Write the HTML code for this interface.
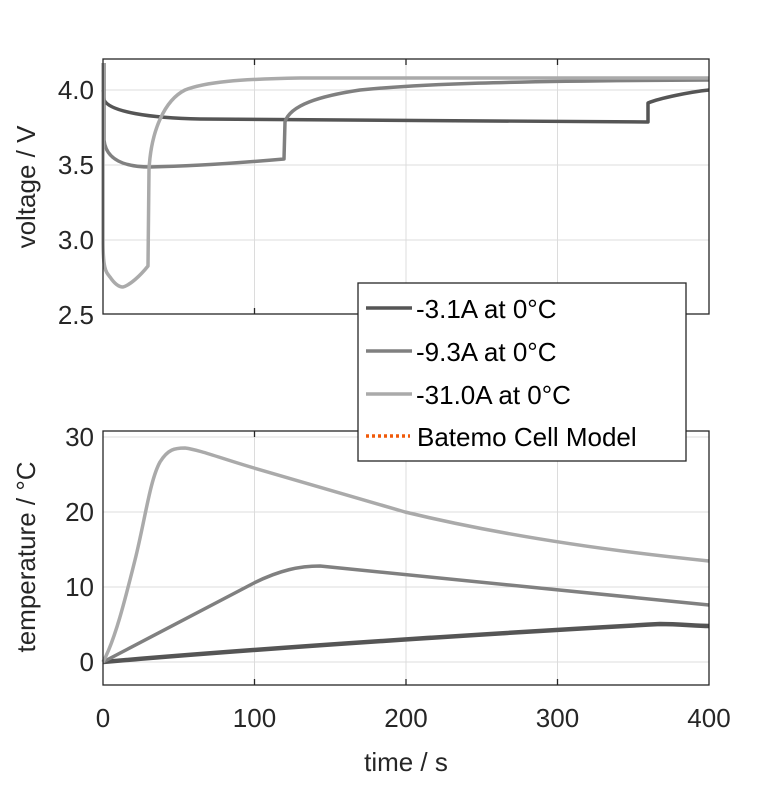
<!DOCTYPE html>
<html><head><meta charset="utf-8"><style>body{margin:0;background:#fff}</style></head><body>
<svg width="781" height="781" viewBox="0 0 781 781" xmlns="http://www.w3.org/2000/svg" font-family="Liberation Sans, sans-serif" fill="#262626">
<rect width="781" height="781" fill="#fff"/>
<g stroke="#dcdcdc" stroke-width="1">
<line x1="254.5" y1="59" x2="254.5" y2="314"/><line x1="406" y1="59" x2="406" y2="314"/><line x1="557.5" y1="59" x2="557.5" y2="314"/>
<line x1="103" y1="90" x2="709" y2="90"/><line x1="103" y1="165" x2="709" y2="165"/><line x1="103" y1="240" x2="709" y2="240"/>
<line x1="254.5" y1="431" x2="254.5" y2="685"/><line x1="406" y1="431" x2="406" y2="685"/><line x1="557.5" y1="431" x2="557.5" y2="685"/>
<line x1="103" y1="437" x2="709" y2="437"/><line x1="103" y1="512" x2="709" y2="512"/><line x1="103" y1="587" x2="709" y2="587"/><line x1="103" y1="662" x2="709" y2="662"/>
</g>
<g fill="none" stroke-width="3.5" stroke-linejoin="round">
<path stroke="#555" d="M103,90 L104,100 C110,112 150,118 200,119 L648,122 L648,103 C660,98 690,92 709,90"/>
<path stroke="#808080" d="M104,63 L104,140 C106,160 125,167 150,167 C200,166 250,162 284,159 L285,122 C290,105 320,96 360,90 C420,84 500,81 709,80"/>
<path stroke="#aaa" d="M103,63 L103,240 C103,270 106,272 110,277 C114,283 118,287 123,287 C130,285 140,276 148,266 L149,170 C151,130 165,100 185,90 C205,82 240,79 300,78 L709,78"/>
<path stroke="#555" stroke-width="4.5" d="M103,662 C300,645 550,630 660,624 C680,624 695,626 709,626"/>
<path stroke="#808080" d="M103,662 L254,583 C280,570 300,566 320,566 C360,570 500,585 709,605"/>
<path stroke="#aaa" d="M103,662 C115,640 125,600 135,560 C145,520 150,480 160,462 C168,449 175,448 185,448 C200,450 220,458 254,468 L405,512 C500,535 600,550 709,561"/>
</g>
<g fill="none" stroke="#262626" stroke-width="1.3">
<rect x="103" y="59" width="606" height="255"/>
<rect x="103" y="431" width="606" height="254"/>
</g>
<g stroke="#262626" stroke-width="1.3">
<line x1="254.5" y1="314" x2="254.5" y2="308"/><line x1="406" y1="314" x2="406" y2="308"/><line x1="557.5" y1="314" x2="557.5" y2="308"/>
<line x1="254.5" y1="59" x2="254.5" y2="65"/><line x1="406" y1="59" x2="406" y2="65"/><line x1="557.5" y1="59" x2="557.5" y2="65"/>
<line x1="254.5" y1="685" x2="254.5" y2="679"/><line x1="406" y1="685" x2="406" y2="679"/><line x1="557.5" y1="685" x2="557.5" y2="679"/>
<line x1="254.5" y1="431" x2="254.5" y2="437"/><line x1="406" y1="431" x2="406" y2="437"/><line x1="557.5" y1="431" x2="557.5" y2="437"/>
</g>
<g font-size="26" text-anchor="end">
<text x="94" y="99">4.0</text><text x="94" y="174">3.5</text><text x="94" y="249">3.0</text><text x="94" y="324">2.5</text>
<text x="94" y="446">30</text><text x="94" y="521">20</text><text x="94" y="596">10</text><text x="94" y="671">0</text>
</g>
<g font-size="26" text-anchor="middle">
<text x="103" y="727">0</text><text x="254.5" y="727">100</text><text x="406" y="727">200</text><text x="557.5" y="727">300</text><text x="709" y="727">400</text>
<text x="406" y="771">time / s</text>
<text transform="translate(35,187) rotate(-90)">voltage / V</text>
<text transform="translate(35,557) rotate(-90)">temperature / °C</text>
</g>
<rect x="358" y="283" width="328" height="178" fill="#fff" stroke="#262626" stroke-width="1.3"/>
<g stroke-width="3.5">
<line x1="366" y1="308" x2="412" y2="308" stroke="#555"/>
<line x1="366" y1="351" x2="412" y2="351" stroke="#808080"/>
<line x1="366" y1="394" x2="412" y2="394" stroke="#aaa"/>
<line x1="366" y1="436" x2="410" y2="436" stroke="#f05a0a" stroke-dasharray="3,3"/>
</g>
<g font-size="26" fill="#000">
<text x="416" y="318">-3.1A at 0°C</text>
<text x="416" y="361">-9.3A at 0°C</text>
<text x="416" y="404">-31.0A at 0°C</text>
<text x="417" y="446">Batemo Cell Model</text>
</g>
</svg>
</body></html>
